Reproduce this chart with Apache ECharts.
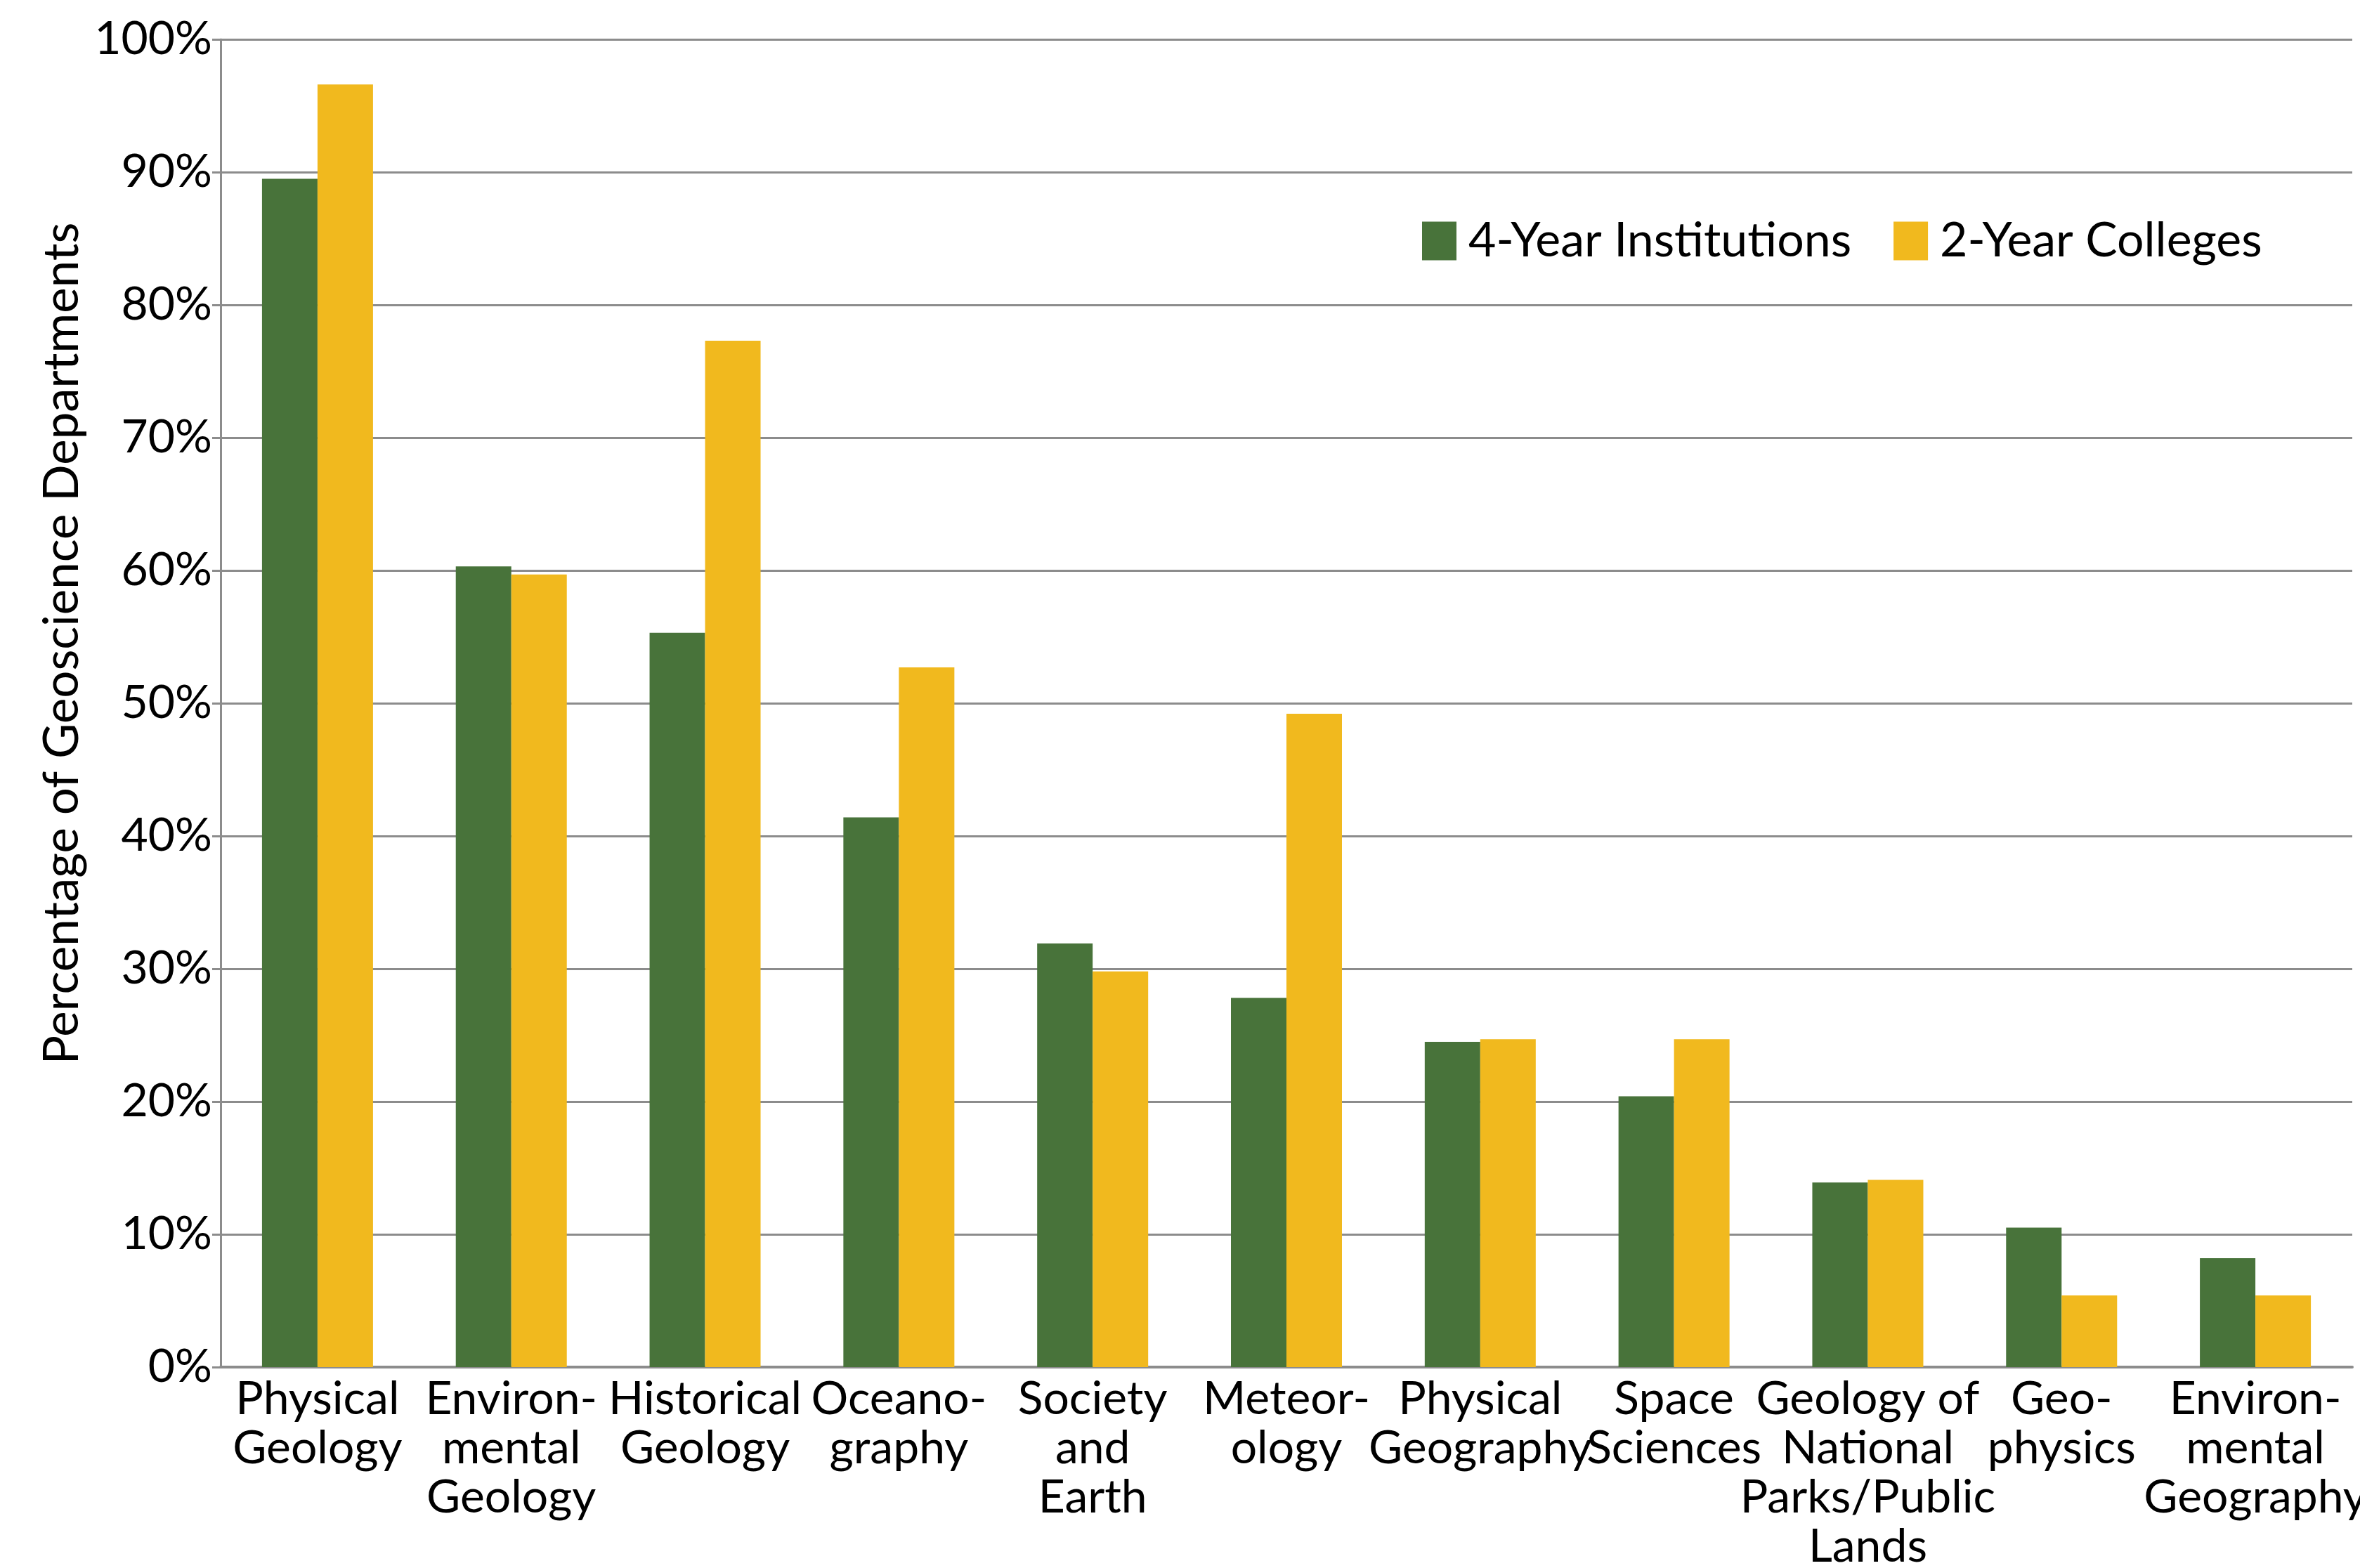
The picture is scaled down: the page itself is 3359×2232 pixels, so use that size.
<!DOCTYPE html>
<html>
<head>
<meta charset="utf-8">
<script src="https://cdn.jsdelivr.net/npm/echarts@6/dist/echarts.min.js"></script>
<style>
html, body { margin: 0; padding: 0; background: #fff; }
#chart { width: 3359px; height: 2232px; }
</style>
</head>
<body>
<div id="chart"></div>
<script>
// categories (line breaks as in the original figure)
const categories = [
    'Physical\nGeology',
    'Environ-\nmental\nGeology',
    'Historical\nGeology',
    'Oceano-\ngraphy',
    'Society\nand\nEarth',
    'Meteor-\nology',
    'Physical\nGeography',
    'Space\nSciences',
    'Geology of\nNational\nParks/Public\nLands',
    'Geo-\nphysics',
    'Environ-\nmental\nGeography'
];
const fourYear = [89.5, 60.3, 55.3, 41.4, 31.9, 27.8, 24.5, 20.4, 13.9, 10.5, 8.2];
const twoYear = [96.6, 59.7, 77.3, 52.7, 29.8, 49.2, 24.7, 24.7, 14.1, 5.4, 5.4];
const yTicks = [0, 10, 20, 30, 40, 50, 60, 70, 80, 90, 100];

const FONT = 'Lato';
const GRID_COLOR = '#8c8c8c';

const chart = echarts.init(document.getElementById('chart'));
const option = {
    backgroundColor: '#ffffff',
    animation: false,
    textStyle: { fontFamily: FONT, color: '#000' },
    grid: {
        left: 314,
        right: 11,
        top: 56,
        bottom: 286,
        containLabel: false,
        outerBoundsMode: 'none'
    },
    legend: {
        data: ['4-Year Institutions', '2-Year Colleges'],
        left: 2019,
        top: 304,
        icon: 'rect',
        itemWidth: 49,
        itemHeight: 55,
        itemGap: 60,
        textStyle: {
            fontFamily: FONT,
            fontSize: 68,
            color: '#000',
            padding: [0, 0, 0, 12]
        }
    },
    xAxis: {
        type: 'category',
        data: categories,
        axisTick: { show: false },
        axisLine: {
            show: true,
            lineStyle: { color: GRID_COLOR, width: 4 }
        },
        axisLabel: {
            interval: 0,
            margin: 11,
            fontFamily: FONT,
            fontSize: 66,
            lineHeight: 70,
            color: '#000',
            align: 'center'
        }
    },
    yAxis: {
        type: 'value',
        min: 0,
        max: 100,
        interval: 10,
        name: 'Percentage of Geoscience Departments',
        nameLocation: 'middle',
        nameRotate: 90,
        nameGap: 160,
        nameTextStyle: {
            fontFamily: FONT,
            fontSize: 69,
            color: '#000',
            // the title sits a little above the middle of the axis
            padding: [0, 0, 0, 170]
        },
        axisLine: {
            show: true,
            lineStyle: { color: GRID_COLOR, width: 3 }
        },
        axisTick: {
            show: true,
            length: 12,
            lineStyle: { color: GRID_COLOR, width: 3 }
        },
        axisLabel: {
            margin: 12,
            fontFamily: FONT,
            fontSize: 66,
            color: '#000',
            formatter: v => (yTicks.indexOf(v) >= 0 ? v + '%' : '')
        },
        splitLine: {
            show: true,
            lineStyle: { color: GRID_COLOR, width: 3 }
        }
    },
    series: [
        {
            name: '4-Year Institutions',
            type: 'bar',
            barWidth: 79,
            barGap: '0%',
            itemStyle: { color: '#48733a' },
            data: fourYear
        },
        {
            name: '2-Year Colleges',
            type: 'bar',
            barWidth: 79,
            barGap: '0%',
            itemStyle: { color: '#f1b91e' },
            data: twoYear
        }
    ]
};
chart.setOption(option);
</script>
</body>
</html>
